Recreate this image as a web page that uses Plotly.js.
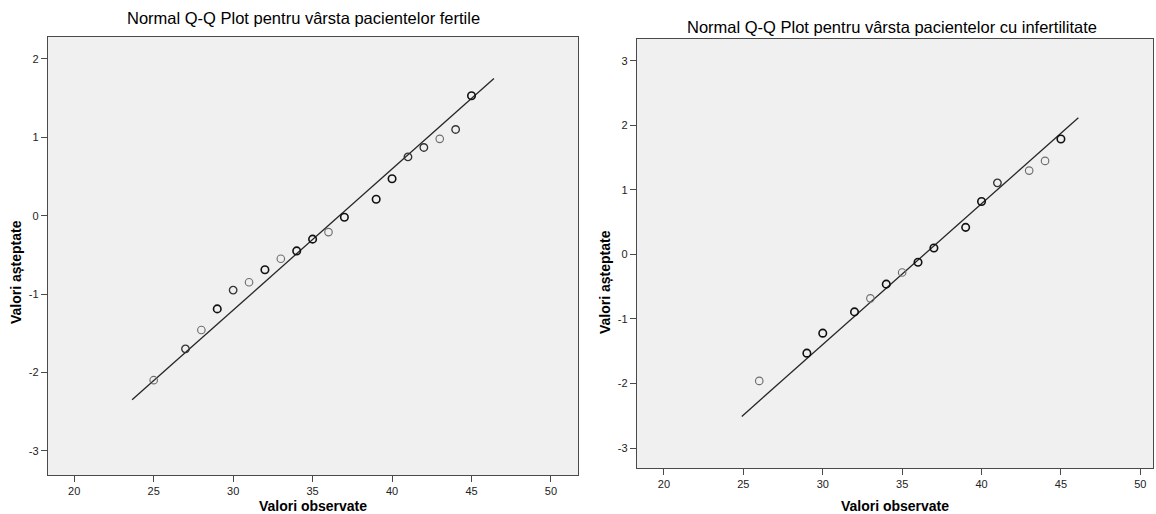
<!DOCTYPE html>
<html>
<head>
<meta charset="utf-8">
<script src="https://cdn.plot.ly/plotly-3.0.1.min.js"></script>
<style>html,body{margin:0;padding:0;background:#fff;}#chart{width:1156px;height:514px;}</style>
</head>
<body>
<div id="chart"></div>
<script>
// ---- Data ----
const leftTitle = "Normal Q-Q Plot pentru vârsta pacientelor fertile";
const rightTitle = "Normal Q-Q Plot pentru vârsta pacientelor cu infertilitate";
const xTitle = "Valori observate";
const yTitle = "Valori așteptate";

// fertile group: observed age, expected normal value, number of tied cases (estimated)
const leftObserved = [25, 27, 28, 29, 30, 31, 32, 33, 34, 35, 36, 37, 39, 40, 41, 42, 43, 44, 45];
const leftExpected = [-2.10, -1.70, -1.46, -1.19, -0.95, -0.85, -0.69, -0.55, -0.45, -0.30, -0.21, -0.02, 0.21, 0.47, 0.75, 0.87, 0.98, 1.10, 1.53];
const leftTies     = [1, 2, 1, 3, 2, 1, 3, 1, 3, 3, 1, 3, 3, 3, 2, 2, 1, 2, 3];
const leftLineX = [23.64, 46.41];
const leftLineY = [-2.35, 1.75];

// infertility group
const rightObserved = [26, 29, 30, 32, 33, 34, 35, 36, 37, 39, 40, 41, 43, 44, 45];
const rightExpected = [-1.96, -1.53, -1.22, -0.89, -0.68, -0.46, -0.28, -0.12, 0.10, 0.42, 0.82, 1.11, 1.30, 1.45, 1.79];
const rightTies     = [1, 3, 3, 3, 1, 3, 1, 3, 3, 3, 3, 2, 1, 1, 3];
const rightLineX = [24.9, 46.1];
const rightLineY = [-2.51, 2.12];

const xTicks = [20, 25, 30, 35, 40, 45, 50];
const leftYTicks = [-3, -2, -1, 0, 1, 2];
const leftYLabels = ["-3", "-2", "-1", "0", "1", "2"];
const rightYTicks = [-3, -2, -1, 0, 1, 2, 3];
const rightYLabels = ["-3", "-2", "-1", "0", "1", "2", "3"];

// ---- styling helpers ----
const FONT = "Liberation Sans, Arial, sans-serif";
function tieColor(t){ return t >= 3 ? "#111111" : (t === 2 ? "#333333" : "#6e6e6e"); }
function tieWidth(t){ return t >= 3 ? 1.6 : (t === 2 ? 1.35 : 1.15); }

function pointTrace(xs, ys, ties, xa, ya){
  return {
    type: "scatter", mode: "markers", x: xs, y: ys, xaxis: xa, yaxis: ya,
    hoverinfo: "x+y",
    marker: { symbol: "circle-open", size: 7.5,
      color: ties.map(tieColor),
      line: { width: ties.map(tieWidth), color: ties.map(tieColor) } },
    showlegend: false
  };
}
function lineTrace(xs, ys, xa, ya){
  return { type: "scatter", mode: "lines", x: xs, y: ys, xaxis: xa, yaxis: ya,
    line: { color: "#262626", width: 1.3 }, hoverinfo: "skip", showlegend: false };
}

const W = 1156, H = 514;
function axisCommon(){
  return {
    showgrid: false, zeroline: false,
    showline: true, mirror: true, linecolor: "#4a4a4a", linewidth: 1.2,
    ticks: "outside", ticklen: 6, tickcolor: "#4a4a4a", tickwidth: 1,
    tickfont: { family: FONT, size: 11, color: "#222" },
    tickmode: "array", fixedrange: true
  };
}

const traces = [
  lineTrace(leftLineX, leftLineY, "x", "y"),
  pointTrace(leftObserved, leftExpected, leftTies, "x", "y"),
  lineTrace(rightLineX, rightLineY, "x2", "y2"),
  pointTrace(rightObserved, rightExpected, rightTies, "x2", "y2")
];

const titleFont = { family: FONT, size: 16.5, color: "#000" };
const axTitleFont = { family: FONT, size: 14, color: "#000", weight: "bold" };

const layout = {
  width: W, height: H,
  margin: { l: 0, r: 0, t: 0, b: 0 },
  paper_bgcolor: "#ffffff", plot_bgcolor: "#f0f0f0",
  xaxis: Object.assign(axisCommon(), {
    domain: [48 / W, 578 / W], range: [18.35, 51.7], tickvals: xTicks, anchor: "y",
    title: { text: "<b>" + xTitle + "</b>", font: axTitleFont, standoff: 12 }
  }),
  yaxis: Object.assign(axisCommon(), {
    domain: [(H - 475) / H, (H - 37) / H], range: [-3.31, 2.28],
    tickvals: leftYTicks, ticktext: leftYLabels, anchor: "x"
  }),
  xaxis2: Object.assign(axisCommon(), {
    domain: [637 / W, 1153 / W], range: [18.3, 50.8], tickvals: xTicks, anchor: "y2",
    title: { text: "<b>" + xTitle + "</b>", font: axTitleFont, standoff: 12 }
  }),
  yaxis2: Object.assign(axisCommon(), {
    domain: [(H - 468) / H, (H - 39) / H], range: [-3.31, 3.34],
    tickvals: rightYTicks, ticktext: rightYLabels, anchor: "x2"
  }),
  annotations: [
    { text: leftTitle, xref: "paper", yref: "paper", x: 303 / W, y: (H - 18) / H,
      xanchor: "center", yanchor: "middle", showarrow: false, font: titleFont },
    { text: rightTitle, xref: "paper", yref: "paper", x: 892 / W, y: (H - 27) / H,
      xanchor: "center", yanchor: "middle", showarrow: false, font: titleFont },
    { text: "<b>" + yTitle + "</b>", xref: "paper", yref: "paper", x: 16 / W, y: (H - 272) / H,
      xanchor: "center", yanchor: "middle", textangle: -90, showarrow: false, font: axTitleFont },
    { text: "<b>" + yTitle + "</b>", xref: "paper", yref: "paper", x: 605 / W, y: (H - 282) / H,
      xanchor: "center", yanchor: "middle", textangle: -90, showarrow: false, font: axTitleFont }
  ]
};

Plotly.newPlot("chart", traces, layout, { displayModeBar: false, staticPlot: true });
</script>
</body>
</html>
